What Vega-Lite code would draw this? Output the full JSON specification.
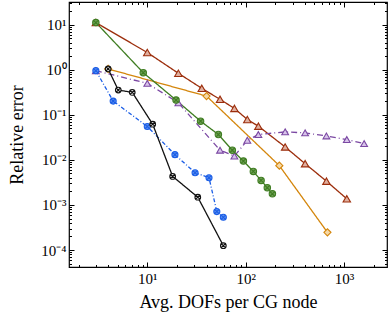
{
  "$schema": "https://vega.github.io/schema/vega-lite/v6.json",
  "width": 318,
  "height": 265,
  "autosize": "none",
  "padding": {"left": 69, "top": 2, "right": 4, "bottom": 52},
  "config": {
    "view": {"stroke": "#000", "strokeWidth": 1.2},
    "axis": {"domain": false, "grid": false, "tickColor": "#000", "labelFont": "Liberation Serif", "titleFont": "Liberation Serif", "labelColor": "#000", "titleColor": "#000", "titleFontWeight": "normal"}
  },
  "data": {"values": [
    {"s": "s1", "x": 3, "y": 11.2},
    {"s": "s1", "x": 10, "y": 2.42},
    {"s": "s1", "x": 20.7, "y": 0.838},
    {"s": "s1", "x": 35.8, "y": 0.388},
    {"s": "s1", "x": 54.9, "y": 0.221},
    {"s": "s1", "x": 76.8, "y": 0.139},
    {"s": "s1", "x": 104, "y": 0.079},
    {"s": "s1", "x": 134.6, "y": 0.0561},
    {"s": "s1", "x": 252, "y": 0.0194},
    {"s": "s1", "x": 402, "y": 0.00826},
    {"s": "s1", "x": 662, "y": 0.00338},
    {"s": "s1", "x": 1067, "y": 0.00137},
    {"s": "s2", "x": 4, "y": 1.045},
    {"s": "s2", "x": 40, "y": 0.261},
    {"s": "s2", "x": 220, "y": 0.00746},
    {"s": "s2", "x": 678, "y": 0.000247},
    {"s": "s3", "x": 3, "y": 0.957},
    {"s": "s3", "x": 10, "y": 0.501},
    {"s": "s3", "x": 20.7, "y": 0.185},
    {"s": "s3", "x": 54.9, "y": 0.0164},
    {"s": "s3", "x": 76.8, "y": 0.0122},
    {"s": "s3", "x": 104, "y": 0.0273},
    {"s": "s3", "x": 134.6, "y": 0.0366},
    {"s": "s3", "x": 252, "y": 0.0419},
    {"s": "s3", "x": 402, "y": 0.0398},
    {"s": "s3", "x": 662, "y": 0.0341},
    {"s": "s3", "x": 1067, "y": 0.0283},
    {"s": "s3", "x": 1600, "y": 0.023},
    {"s": "s4", "x": 3, "y": 11.2},
    {"s": "s4", "x": 9.1, "y": 0.864},
    {"s": "s4", "x": 19.6, "y": 0.213},
    {"s": "s4", "x": 34.8, "y": 0.0725},
    {"s": "s4", "x": 52.8, "y": 0.0366},
    {"s": "s4", "x": 73.2, "y": 0.0164},
    {"s": "s4", "x": 94.8, "y": 0.00944},
    {"s": "s4", "x": 119.7, "y": 0.00556},
    {"s": "s4", "x": 143.5, "y": 0.00351},
    {"s": "s4", "x": 166, "y": 0.00241},
    {"s": "s4", "x": 187, "y": 0.00177},
    {"s": "s5", "x": 3, "y": 0.957},
    {"s": "s5", "x": 4.5, "y": 0.202},
    {"s": "s5", "x": 10, "y": 0.0553},
    {"s": "s5", "x": 19.1, "y": 0.0131},
    {"s": "s5", "x": 30.6, "y": 0.0052},
    {"s": "s5", "x": 42.4, "y": 0.00403},
    {"s": "s5", "x": 50.9, "y": 0.000714},
    {"s": "s5", "x": 59.3, "y": 0.000533},
    {"s": "s6", "x": 4, "y": 1.045},
    {"s": "s6", "x": 5.07, "y": 0.356},
    {"s": "s6", "x": 7.03, "y": 0.316},
    {"s": "s6", "x": 11.35, "y": 0.0621},
    {"s": "s6", "x": 18.1, "y": 0.00431},
    {"s": "s6", "x": 32.6, "y": 0.00149},
    {"s": "s6", "x": 59.3, "y": 0.000125}
  ]},
  "layer": [
    {
      "mark": {"type": "line", "strokeWidth": 1.3, "clip": true},
      "encoding": {
        "x": {"field": "x", "type": "quantitative",
          "scale": {"type": "log", "domain": [1.6, 2734], "nice": false},
          "axis": {"orient": "bottom", "title": "Avg. DOFs per CG node", "titleFontSize": 18, "titlePadding": 7, "labelFontSize": 15, "labelPadding": 9,
            "values": [2,3,4,5,6,7,8,9,10,20,30,40,50,60,70,80,90,100,200,300,400,500,600,700,800,900,1000,2000],
            "labelExpr": "indexof([10,100,1000], datum.value) >= 0 ? '10' + ['⁰','¹','²','³'][round(log(datum.value)/LN10)] : ''",
            "tickSize": {"condition": {"test": "indexof([10,100,1000], datum.value) >= 0", "value": -5}, "value": -2.5}}},
        "y": {"field": "y", "type": "quantitative",
          "scale": {"type": "log", "domain": [4.2e-5, 32], "nice": false},
          "axis": {"orient": "left", "title": "Relative error", "titleFontSize": 18, "titlePadding": 14, "labelFontSize": 15, "labelPadding": 8,
            "values": [5e-5,6e-5,7e-5,8e-5,9e-5,1e-4,2e-4,3e-4,4e-4,5e-4,6e-4,7e-4,8e-4,9e-4,1e-3,2e-3,3e-3,4e-3,5e-3,6e-3,7e-3,8e-3,9e-3,1e-2,2e-2,3e-2,4e-2,5e-2,6e-2,7e-2,8e-2,9e-2,0.1,0.2,0.3,0.4,0.5,0.6,0.7,0.8,0.9,1,2,3,4,5,6,7,8,9,10,20,30],
            "labelExpr": "indexof([0.0001,0.001,0.01,0.1,1,10], datum.value) >= 0 ? '10' + ['⁻⁴','⁻³','⁻²','⁻¹','⁰','¹'][round(log(datum.value)/LN10)+4] : ''",
            "tickSize": {"condition": {"test": "indexof([0.0001,0.001,0.01,0.1,1,10], datum.value) >= 0", "value": -5}, "value": -2.5}}},
        "color": {"field": "s", "type": "nominal", "legend": null,
          "scale": {"domain": ["s1","s2","s3","s4","s5","s6"], "range": ["#9c2e0c","#d4860c","#7b48a3","#3f7d22","#1a5de6","#111111"]}},
        "strokeDash": {"field": "s", "type": "nominal", "legend": null,
          "scale": {"domain": ["s1","s2","s3","s4","s5","s6"], "range": [[1,0],[1,0],[6,3,1,3],[1,0],[4,2,1,2],[1,0]]}},
        "order": {"field": "x", "type": "quantitative"}
      }
    },
    {
      "mark": {"type": "point", "strokeWidth": 1.1, "opacity": 1, "fillOpacity": 1, "clip": true},
      "encoding": {
        "x": {"field": "x", "type": "quantitative", "axis": null},
        "y": {"field": "y", "type": "quantitative", "axis": null},
        "stroke": {"field": "s", "type": "nominal", "legend": null,
          "scale": {"domain": ["s1","s2","s3","s4","s5","s6"], "range": ["#9c2e0c","#d4860c","#7b48a3","#3f7d22","#1a5de6","#111111"]}},
        "fill": {"field": "s", "type": "nominal", "legend": null,
          "scale": {"domain": ["s1","s2","s3","s4","s5","s6"], "range": ["#e0b0a0","#f5d9a8","#d8c4ea","#6f9f55","#5b8ff0","#e4e4e4"]}},
        "shape": {"field": "s", "type": "nominal", "legend": null,
          "scale": {"domain": ["s1","s2","s3","s4","s5","s6"], "range": ["triangle-up","diamond","triangle-up",
            "M-1,0A1,1,0,1,0,1,0A1,1,0,1,0,-1,0ZM-0.7071,-0.7071L0.7071,0.7071M-0.7071,0.7071L0.7071,-0.7071",
            "M-1,0A1,1,0,1,0,1,0A1,1,0,1,0,-1,0ZM-0.7071,-0.7071L0.7071,0.7071M-0.7071,0.7071L0.7071,-0.7071",
            "M-1,0A1,1,0,1,0,1,0A1,1,0,1,0,-1,0ZM-0.7071,-0.7071L0.7071,0.7071M-0.7071,0.7071L0.7071,-0.7071"]}},
        "size": {"field": "s", "type": "nominal", "legend": null,
          "scale": {"domain": ["s1","s2","s3","s4","s5","s6"], "range": [55, 32, 55, 48, 48, 48]}}
      }
    },
    {
      "mark": {"type": "point", "opacity": 0},
      "encoding": {
        "x": {"field": "x", "type": "quantitative",
          "axis": {"orient": "top", "title": null, "labels": false,
            "values": [2,3,4,5,6,7,8,9,10,20,30,40,50,60,70,80,90,100,200,300,400,500,600,700,800,900,1000,2000],
            "tickSize": {"condition": {"test": "indexof([10,100,1000], datum.value) >= 0", "value": -5}, "value": -2.5}}},
        "y": {"field": "y", "type": "quantitative",
          "axis": {"orient": "right", "title": null, "labels": false,
            "values": [5e-5,6e-5,7e-5,8e-5,9e-5,1e-4,2e-4,3e-4,4e-4,5e-4,6e-4,7e-4,8e-4,9e-4,1e-3,2e-3,3e-3,4e-3,5e-3,6e-3,7e-3,8e-3,9e-3,1e-2,2e-2,3e-2,4e-2,5e-2,6e-2,7e-2,8e-2,9e-2,0.1,0.2,0.3,0.4,0.5,0.6,0.7,0.8,0.9,1,2,3,4,5,6,7,8,9,10,20,30],
            "tickSize": {"condition": {"test": "indexof([0.0001,0.001,0.01,0.1,1,10], datum.value) >= 0", "value": -5}, "value": -2.5}}}
      }
    }
  ],
  "resolve": {"axis": {"x": "independent", "y": "independent"}}
}
